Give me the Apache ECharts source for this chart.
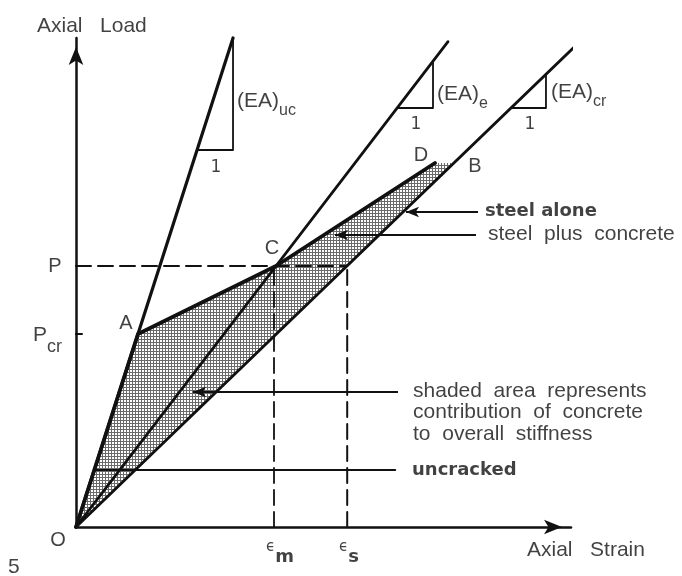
<!DOCTYPE html>
<html>
<head>
<meta charset="utf-8">
<script src="https://cdn.jsdelivr.net/npm/echarts@6/dist/echarts.min.js"></script>
<style>
  html, body { margin: 0; padding: 0; background: #fff; }
  #chart { width: 682px; height: 576px; }
</style>
</head>
<body>
<div id="chart"></div>
<script>
// axis ranges (schematic units, origin O at 0,0)
const strainMax = 8.25
const loadMax = 8

// stiffness lines from the origin
const ucLine = [[0, 0], [2.617, 8.0]]
const eLine = [[0, 0], [6.2, 7.94]]
const crLine = [[0, 0], [8.43, 7.97]]
// steel plus concrete response O - A - C - D
const steelConcrete = [[0, 0], [1.033, 3.158], [3.333, 4.27], [5.983, 5.955]]
// shaded area O - A - C - D - B
const shadedArea = [[0, 0], [1.033, 3.158], [3.333, 4.27], [5.983, 5.955], [6.3, 5.955]]

// slope triangles
const ucTriangle = [[2.018, 6.168], [2.617, 6.168], [2.617, 8.0]]
const eTriangle = [[5.37, 6.855], [5.95, 6.855], [5.95, 7.6]]
const crTriangle = [[7.26, 6.855], [7.833, 6.855], [7.833, 7.40]]

// dashed guides for P, eps_m, eps_s
const pLoad = 4.27
const pcrLoad = 3.158
const epsM = 3.3
const epsS = 4.52
const pGuide = [[0, pLoad], [epsS, pLoad]]
const epsMGuide = [[epsM, 0], [epsM, pLoad]]
const epsSGuide = [[epsS, 0], [epsS, pLoad]]
const pTick = [[-0.1, pLoad], [0.1, pLoad]]
const pcrTick = [[-0.1, pcrLoad], [0.1, pcrLoad]]

// annotation arrows [from, to]
const arrows = [
  [[6.7, 5.153], [5.5, 5.153]],
  [[6.667, 4.777], [4.317, 4.777]],
  [[5.367, 2.209], [1.95, 2.209]]
]
const uncrackedLine = [[5.32, 0.933], [0.3, 0.933]]

// texts [label, x, y]
const plainTexts = [
  ['Axial   Load', -0.65, 8.2],
  ['steel  plus  concrete', 6.867, 4.793],
  ['shaded  area  represents', 5.617, 2.225],
  ['contribution  of  concrete', 5.617, 1.88],
  ['to  overall  stiffness', 5.617, 1.52],
  ['Axial   Strain', 7.517, -0.376],
  ['5', -1.133, -0.654]
]
const boldTexts = [
  ['steel alone', 6.817, 5.17],
  ['uncracked', 5.6, 0.933]
]
const pointTexts = [
  ['D', 5.75, 6.086],
  ['B', 6.65, 5.906],
  ['C', 3.267, 4.564],
  ['A', 0.833, 3.337],
  ['P', -0.35, 4.254],
  ['O', -0.3, -0.213]
]
const subTexts = [
  ['{p|P}{q|cr}', -0.717, 3.141],
  ['{e|ϵ}{m|m}', 3.167, -0.327],
  ['{e|ϵ}{m|s}', 4.383, -0.327],
  ['{b|(EA)}{s|uc}', 2.683, 6.953],
  ['{b|(EA)}{s|e}', 6.017, 7.067],
  ['{b|(EA)}{s|cr}', 7.917, 7.1]
]
const unitTexts = [
  ['1', 2.333, 5.873],
  ['1', 5.667, 6.59],
  ['1', 7.567, 6.59]
]

const ink = '#111'

function dotPattern() {
  const c = document.createElement('canvas')
  c.width = 3
  c.height = 3
  const ctx = c.getContext('2d')
  ctx.fillStyle = '#fff'
  ctx.fillRect(0, 0, 3, 3)
  ctx.fillStyle = '#6a6a6a'
  ctx.fillRect(0, 0, 3, 1)
  ctx.fillRect(0, 0, 1, 3)
  return c
}

function lineSeries(data, width, dashed) {
  return {
    type: 'line',
    data: data,
    showSymbol: false,
    symbol: 'none',
    clip: false,
    silent: true,
    lineStyle: { color: ink, width: width, type: dashed ? [15, 7] : 'solid', cap: 'round', join: 'round' },
    z: 3
  }
}

function textSeries(items, label) {
  return {
    type: 'scatter',
    data: items.map(t => ({ value: [t[1], t[2]], name: t[0] })),
    symbolSize: 0,
    clip: false,
    silent: true,
    z: 5,
    label: Object.assign({
      show: true,
      position: 'inside',
      color: ink,
      formatter: p => p.name
    }, label)
  }
}

const subRich = {
  b: { fontFamily: 'Liberation Sans', fontSize: 21, lineHeight: 22, verticalAlign: 'top', color: ink },
  s: { fontFamily: 'Liberation Sans', fontSize: 16, lineHeight: 16, padding: [12, 0, 0, 0], verticalAlign: 'top', color: ink },
  p: { fontFamily: 'Liberation Sans', fontSize: 21, lineHeight: 20, verticalAlign: 'top', color: ink },
  q: { fontFamily: 'Liberation Sans', fontSize: 18, lineHeight: 15, padding: [13, 0, 0, 0], verticalAlign: 'top', color: ink },
  e: { fontFamily: 'DejaVu Sans', fontSize: 15, lineHeight: 10, verticalAlign: 'top', color: ink },
  m: { fontFamily: 'DejaVu Sans', fontWeight: 'bold', fontSize: 18, lineHeight: 14, padding: [8, 0, 0, 0], verticalAlign: 'top', color: ink }
}

const chart = echarts.init(document.getElementById('chart'), null, { renderer: 'canvas' })

chart.setOption({
  animation: false,
  backgroundColor: '#fff',
  grid: { left: 76, top: 38, width: 495, height: 489 },
  xAxis: {
    type: 'value',
    min: 0,
    max: strainMax,
    axisLine: { show: true, symbol: ['none', 'arrow'], symbolSize: [11, 18], symbolOffset: [0, -9], lineStyle: { color: ink, width: 2.5 } },
    axisTick: { show: false },
    axisLabel: { show: false },
    splitLine: { show: false }
  },
  yAxis: {
    type: 'value',
    min: 0,
    max: loadMax,
    axisLine: { show: true, symbol: ['none', 'arrow'], symbolSize: [11, 18], symbolOffset: [0, -9], lineStyle: { color: ink, width: 2.5 } },
    axisTick: { show: false },
    axisLabel: { show: false },
    splitLine: { show: false }
  },
  series: [
    {
      type: 'custom',
      silent: true,
      clip: false,
      z: 1,
      data: [0],
      renderItem: (params, api) => ({
        type: 'polygon',
        shape: { points: shadedArea.map(p => api.coord(p)) },
        style: { fill: { image: dotPattern(), repeat: 'repeat' }, stroke: null }
      })
    },
    lineSeries(ucLine, 3.2),
    lineSeries(eLine, 2.8),
    lineSeries(crLine, 2.8),
    lineSeries(steelConcrete, 3.8),
    lineSeries(ucTriangle, 1.8),
    lineSeries(eTriangle, 1.8),
    lineSeries(crTriangle, 1.8),
    lineSeries(pGuide, 2, true),
    lineSeries(epsMGuide, 1.8, true),
    lineSeries(epsSGuide, 2, true),
    lineSeries(pTick, 2),
    lineSeries(pcrTick, 2),
    lineSeries(uncrackedLine, 2),
    {
      type: 'line',
      data: [[0, 0]],
      showSymbol: false,
      silent: true,
      lineStyle: { opacity: 0 },
      markLine: {
        silent: true,
        animation: false,
        symbol: ['none', 'arrow'],
        symbolSize: [8, 13],
        label: { show: false },
        lineStyle: { color: ink, width: 2, type: 'solid' },
        data: arrows.map(a => [{ coord: a[0] }, { coord: a[1] }])
      }
    },
    textSeries(plainTexts, { align: 'left', verticalAlign: 'middle', fontFamily: 'Liberation Sans', fontSize: 21 }),
    textSeries(boldTexts, { align: 'left', verticalAlign: 'middle', fontFamily: 'DejaVu Sans', fontWeight: 'bold', fontSize: 18 }),
    textSeries(pointTexts, { align: 'center', verticalAlign: 'middle', fontFamily: 'Liberation Sans', fontSize: 20 }),
    textSeries(subTexts, { align: 'left', verticalAlign: 'middle', fontFamily: 'Liberation Sans', fontSize: 20, rich: subRich }),
    textSeries(unitTexts, { align: 'center', verticalAlign: 'middle', fontFamily: 'DejaVu Sans', fontSize: 17 })
  ]
})
</script>
</body>
</html>
